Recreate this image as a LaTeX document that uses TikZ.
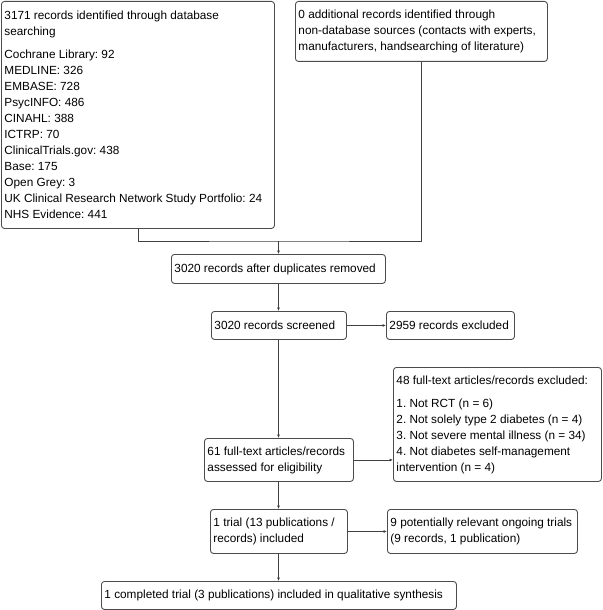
\documentclass[tikz,border=0pt]{standalone}
\usepackage{fontspec}
\setmainfont{Liberation Sans}
\frenchspacing
\usetikzlibrary{arrows.meta}

\tikzset{
    flowbox/.style={draw=black!70, line width=0.9pt, rounded corners=3pt, anchor=north west,
        inner xsep=3pt, inner ysep=2pt, align=flush left,
        font=\fontsize{11.8pt}{16pt}\selectfont},
    flowline/.style={draw=black!75, line width=0.9pt},
    flowarrow/.style={flowline, -{Latex[length=3.5pt,width=3pt]}}
}

\begin{document}
\begin{tikzpicture}[x=1pt,y=-1pt]
    \useasboundingbox (0,0) rectangle (602,610);

    % Identification
    \node[flowbox, text width=267pt, minimum height=227pt] (db) at (1,1)
        {3171 records identified through database\\ searching\\[7pt]
         Cochrane Library: 92\\ MEDLINE: 326\\ EMBASE: 728\\ PsycINFO: 486\\
         CINAHL: 388\\ ICTRP: 70\\ ClinicalTrials.gov: 438\\ Base: 175\\
         Open Grey: 3\\ UK Clinical Research Network Study Portfolio: 24\\
         NHS Evidence: 441};
    \node[flowbox, text width=246pt, minimum height=60pt] (other) at (295,1)
        {0 additional records identified through\\ non-database sources (contacts with experts,\\
         manufacturers, handsearching of literature)};

    % Screening
    \node[flowbox, text width=208pt, minimum height=29pt] (dedup) at (171,254)
        {3020 records after duplicates removed};
    \node[flowbox, text width=129pt, minimum height=28pt] (screened) at (211,311)
        {3020 records screened};
    \node[flowbox, text width=122pt, minimum height=28pt] (excluded) at (386,311)
        {2959 records excluded};

    % Eligibility
    \node[flowbox, text width=202pt, minimum height=114pt] (ftexcl) at (393,367)
        {48 full-text articles/records excluded:\\[7pt]
         1. Not RCT (n = 6)\\ 2. Not solely type 2 diabetes (n = 4)\\
         3. Not severe mental illness (n = 34)\\ 4. Not diabetes self-management\\
         intervention (n = 4)};
    \node[flowbox, text width=143pt, minimum height=43pt] (fulltext) at (204,438)
        {61 full-text articles/records\\ assessed for eligibility};

    % Included
    \node[flowbox, text width=131pt, minimum height=44pt] (trial) at (210,509)
        {1 trial (13 publications /\\ records) included};
    \node[flowbox, text width=184pt, minimum height=44pt] (ongoing) at (387,509)
        {9 potentially relevant ongoing trials\\ (9 records, 1 publication)};
    \node[flowbox, text width=349pt, minimum height=28pt] (synth) at (101,581)
        {1 completed trial (3 publications) included in qualitative synthesis};

    % Connectors
    \coordinate (join) at (278.5,241);
    \draw[flowline] (db.south) |- (join) -| (other.south);
    \draw[flowarrow] (join) -- (join |- dedup.north);

    \foreach \a/\b in {dedup/screened, screened/fulltext, fulltext/trial, trial/synth}
        \draw[flowarrow] (\a.south -| join) -- (\b.north -| join);

    \foreach \a/\b in {screened/excluded, fulltext/ftexcl, trial/ongoing}
        \draw[flowarrow] (\a.east) -- (\a.east -| \b.west);
\end{tikzpicture}
\end{document}
